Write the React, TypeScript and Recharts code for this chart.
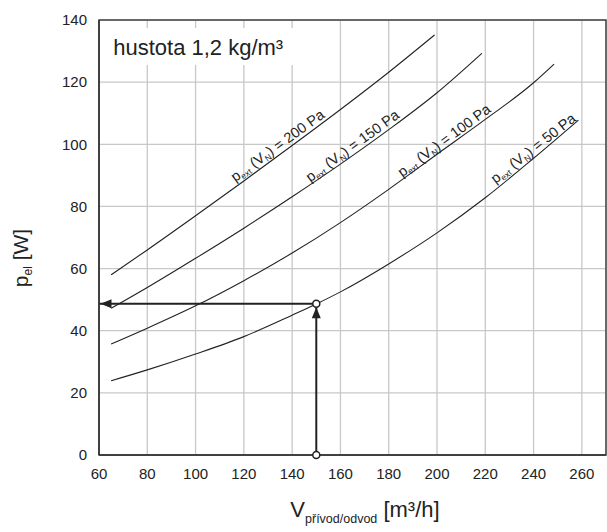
import React from "react";
import {
  LineChart,
  Line,
  XAxis,
  YAxis,
  CartesianGrid,
  ReferenceArea,
  ReferenceLine,
  ReferenceDot,
} from "recharts";

const FONT = '"Liberation Sans", Arial, Helvetica, sans-serif';
const INK = "#222";

const xTicks = [60, 80, 100, 120, 140, 160, 180, 200, 220, 240, 260];
const yTicks = [0, 20, 40, 60, 80, 100, 120, 140];

// V [m3/h] and p_el [W] for each external pressure
const v200 = [65, 80, 100, 120, 140, 160, 180, 199];
const p200 = [58.0, 66.0, 77.0, 88.2, 99.6, 111.2, 123.2, 135.2];

const v150 = [65, 80, 100, 120, 140, 160, 180, 200, 218.6];
const p150 = [47.2, 53.9, 63.3, 73.0, 83.1, 93.6, 104.7, 116.6, 129.3];

const v100 = [65, 80, 100, 120, 140, 160, 180, 200, 220, 240, 248.5];
const p100 = [35.7, 40.8, 48.0, 56.1, 65.0, 74.8, 85.5, 96.8, 108.0, 119.8, 125.8];

const v50 = [65, 80, 100, 120, 140, 150, 160, 180, 200, 220, 240, 258.6];
const p50 = [23.9, 27.4, 32.5, 38.1, 45.0, 48.6, 52.5, 61.5, 71.5, 82.8, 95.5, 107.8];

const pressures = [200, 150, 100, 50];
const labelV = [136, 167, 205, 242];
const labelP = [97.4, 97.3, 99.1, 96.6];
const labelAngle = [36, 36, 36.5, 38];

// reading example
const readV = 150;
const readP = 48.7;

const toPoints = (v: number[], p: number[]) => v.map((x, i) => ({ x, y: p[i] }));

const curves = [
  toPoints(v200, p200),
  toPoints(v150, p150),
  toPoints(v100, p100),
  toPoints(v50, p50),
];

const CurveLabel = (props: any) => {
  const { cx, cy, pa, angle } = props;
  return (
    <text
      transform={`translate(${cx},${cy}) rotate(${-angle})`}
      x={0}
      y={-3.5}
      textAnchor="middle"
      fontSize={14.5}
      fontFamily={FONT}
      fill={INK}
    >
      <tspan>p</tspan>
      <tspan fontSize={8.5} dy={2.5}>ext</tspan>
      <tspan dy={-2.5}> (V</tspan>
      <tspan fontSize={8.5} dy={2.5}>N</tspan>
      <tspan dy={-2.5}>{`) = ${pa} Pa`}</tspan>
    </text>
  );
};

const ArrowLeft = (props: any) => {
  const { cx, cy } = props;
  const tip = cx + 1.5;
  return <polygon points={`${tip},${cy} ${tip + 11},${cy - 4.5} ${tip + 11},${cy + 4.5}`} fill={INK} />;
};

const ArrowUp = (props: any) => {
  const { cx, cy } = props;
  const tip = cy + 3.5;
  return <polygon points={`${cx},${tip} ${cx - 4.5},${tip + 11} ${cx + 4.5},${tip + 11}`} fill={INK} />;
};

const XTitle = (props: any) => {
  const { viewBox } = props;
  const cx = viewBox.x + viewBox.width / 2 + 12.5;
  return (
    <text x={cx} y={517} textAnchor="middle" fontFamily={FONT} fontSize={22} fill={INK}>
      <tspan>V</tspan>
      <tspan fontSize={12.5} dy={6}>přívod/odvod</tspan>
      <tspan dy={-6}> [m³/h]</tspan>
    </text>
  );
};

const YTitle = () => (
  <text
    transform="translate(28,258) rotate(-90)"
    textAnchor="middle"
    fontFamily={FONT}
    fontSize={21}
    fill={INK}
  >
    <tspan>p</tspan>
    <tspan fontSize={12} dy={4}>el</tspan>
    <tspan dy={-4}> [W]</tspan>
  </text>
);

const BoxTitle = (props: any) => {
  const { viewBox } = props;
  return (
    <text x={viewBox.x + 13} y={viewBox.y + 27} fontFamily={FONT} fontSize={22} fill={INK}>
      hustota 1,2 kg/m³
    </text>
  );
};

export default function App() {
  return (
    <div style={{ width: 607, height: 532, background: "#fff" }}>
      <style>{"body{margin:0}"}</style>
      <LineChart width={607} height={532} margin={{ top: 20, right: 1, bottom: 0, left: 0 }}>
        <CartesianGrid stroke="#c8c8c8" strokeWidth={1.3} />
        <XAxis
          type="number"
          dataKey="x"
          domain={[60, 270]}
          ticks={xTicks}
          height={77}
          tickLine={false}
          tickMargin={7}
          axisLine={{ stroke: "#333", strokeWidth: 1.5 }}
          tick={{ fill: INK, fontSize: 15, fontFamily: FONT }}
          allowDataOverflow
          label={{ content: <XTitle /> }}
        />
        <YAxis
          type="number"
          dataKey="y"
          domain={[0, 140]}
          ticks={yTicks}
          width={99}
          tickLine={false}
          tickMargin={6}
          axisLine={{ stroke: "#333", strokeWidth: 1.5 }}
          tick={{ fill: INK, fontSize: 15, fontFamily: FONT }}
          label={{ content: <YTitle /> }}
        />
        <ReferenceArea
          x1={60.5}
          x2={146}
          y1={125.5}
          y2={137.4}
          fill="#fff"
          fillOpacity={1}
          stroke="none"
          label={{ content: <BoxTitle /> }}
        />
        <ReferenceArea x1={60} x2={270} y1={0} y2={140} fill="none" stroke="#444" strokeWidth={1.5} />
        {curves.map((pts, i) => (
          <Line
            key={pressures[i]}
            data={pts}
            dataKey="y"
            type="monotone"
            stroke={INK}
            strokeWidth={1.1}
            dot={false}
            activeDot={false}
            isAnimationActive={false}
          />
        ))}
        {pressures.map((pa, i) => (
          <ReferenceDot
            key={"lbl" + pa}
            x={labelV[i]}
            y={labelP[i]}
            r={0}
            shape={(p: any) => <CurveLabel cx={p.cx} cy={p.cy} pa={pa} angle={labelAngle[i]} />}
          />
        ))}
        <ReferenceLine segment={[{ x: 60, y: readP }, { x: readV, y: readP }]} stroke={INK} strokeWidth={2} />
        <ReferenceLine segment={[{ x: readV, y: 0 }, { x: readV, y: readP }]} stroke={INK} strokeWidth={2} />
        <ReferenceDot x={60} y={readP} r={0} shape={(p: any) => <ArrowLeft cx={p.cx} cy={p.cy} />} />
        <ReferenceDot x={readV} y={readP} r={0} shape={(p: any) => <ArrowUp cx={p.cx} cy={p.cy} />} />
        <ReferenceDot x={readV} y={readP} r={3.5} fill="#fff" stroke={INK} strokeWidth={1.5} />
        <ReferenceDot x={readV} y={0} r={3.5} fill="#fff" stroke={INK} strokeWidth={1.5} />
      </LineChart>
    </div>
  );
}
